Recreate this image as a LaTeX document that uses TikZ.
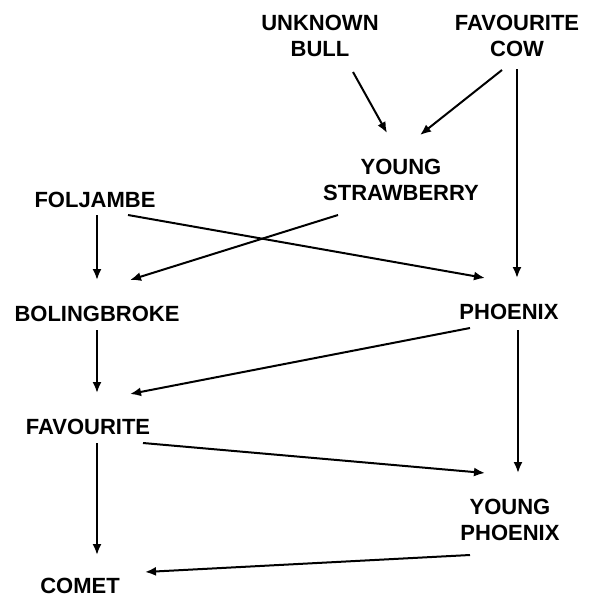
\documentclass[tikz,border=0pt]{standalone}
\usepackage{fontspec}
\setmainfont{Liberation Sans}
\usetikzlibrary{arrows.meta}
\tikzset{
  horse/.style={font=\fontsize{22}{25.5}\selectfont\bfseries, align=center, inner sep=0pt},
  arr/.style={line width=2pt, -{Latex[length=11pt,width=9pt]}}
}
\begin{document}
\begin{tikzpicture}[x=1pt,y=-1pt]
\useasboundingbox (0,0) rectangle (589,597);
\node[horse] (ub) at (320,36) {UNKNOWN\\BULL};
\node[horse] (fc) at (517,36) {FAVOURITE\\COW};
\node[horse] (ys) at (401,180) {YOUNG\\STRAWBERRY};
\node[horse] (fol) at (95,200) {FOLJAMBE};
\node[horse] (bol) at (97,314) {BOLINGBROKE};
\node[horse] (ph) at (509,312) {PHOENIX};
\node[horse] (fav) at (88,427) {FAVOURITE};
\node[horse] (yp) at (510,520) {YOUNG\\PHOENIX};
\node[horse] (com) at (80,586) {COMET};

\draw[arr] ([shift={(33,36)}]ub.center) -- ([shift={(-14,-47)}]ys.center);
\draw[arr] ([shift={(-15,34)}]fc.center) -- ([shift={(19,-45)}]ys.center);
\draw[arr] ([shift={(0,33)}]fc.center) -- ([shift={(8,-34)}]ph.center);
\draw[arr] ([shift={(-63,35)}]ys.center) -- ([shift={(33,-34)}]bol.center);
\draw[arr] ([shift={(2,15)}]fol.center) -- ([shift={(0,-34)}]bol.center);
\draw[arr] ([shift={(33,15)}]fol.center) -- ([shift={(-24,-34)}]ph.center);
\draw[arr] ([shift={(0,16)}]bol.center) -- ([shift={(9,-34)}]fav.center);
\draw[arr] ([shift={(-39,16)}]ph.center) -- ([shift={(42,-33)}]fav.center);
\draw[arr] ([shift={(9,18)}]ph.center) -- ([shift={(8,-47)}]yp.center);
\draw[arr] ([shift={(9,16)}]fav.center) -- ([shift={(17,-31)}]com.center);
\draw[arr] ([shift={(55,16)}]fav.center) -- ([shift={(-25,-47)}]yp.center);
\draw[arr] ([shift={(-40,35)}]yp.center) -- ([shift={(65,-14)}]com.center);
\end{tikzpicture}
\end{document}
